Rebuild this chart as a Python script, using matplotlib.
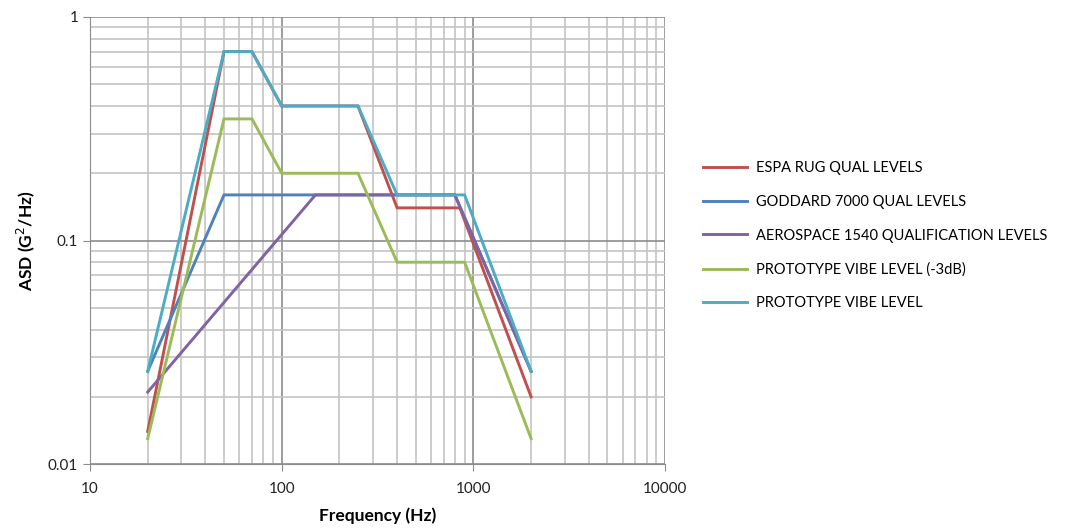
import matplotlib
matplotlib.use("Agg")
import matplotlib.pyplot as plt
from matplotlib.ticker import LogLocator, NullFormatter, FixedLocator, FixedFormatter

plt.rcParams['font.family'] = ['Lato', 'DejaVu Sans']

# frequency / ASD break points
espa_f = [20, 50, 70, 100, 250, 400, 850, 2000]
espa_asd = [0.014, 0.7, 0.7, 0.4, 0.4, 0.14, 0.14, 0.02]

goddard_f = [20, 50, 800, 2000]
goddard_asd = [0.026, 0.16, 0.16, 0.026]

aero_f = [20, 150, 800, 2000]
aero_asd = [0.021, 0.16, 0.16, 0.026]

proto3_f = [20, 50, 70, 100, 250, 400, 900, 2000]
proto3_asd = [0.013, 0.35, 0.35, 0.2, 0.2, 0.08, 0.08, 0.013]

proto_f = [20, 50, 70, 100, 250, 400, 900, 2000]
proto_asd = [0.026, 0.7, 0.7, 0.4, 0.4, 0.16, 0.16, 0.026]

labels = ["ESPA RUG QUAL LEVELS", "GODDARD 7000 QUAL LEVELS",
          "AEROSPACE 1540 QUALIFICATION LEVELS", "PROTOTYPE VIBE LEVEL (-3dB)",
          "PROTOTYPE VIBE LEVEL"]
colors = ["#C0504D", "#4F81BD", "#8064A2", "#9BBB59", "#4BACC6"]

fig = plt.figure(figsize=(10.65, 5.31), dpi=100)
ax = fig.add_axes([0.0845, 0.126, 0.540, 0.842])

series = [(espa_f, espa_asd), (goddard_f, goddard_asd), (aero_f, aero_asd),
          (proto3_f, proto3_asd), (proto_f, proto_asd)]
for (f, a), lab, c in zip(series, labels, colors):
    ax.plot(f, a, color=c, lw=2.1, label=lab, solid_joinstyle='miter')

ax.set_xscale('log')
ax.set_yscale('log')
ax.set_xlim(10, 10000)
ax.set_ylim(0.01, 1)

ax.xaxis.set_major_locator(FixedLocator([10, 100, 1000, 10000]))
ax.xaxis.set_major_formatter(FixedFormatter(["10", "100", "1000", "10000"]))
ax.yaxis.set_major_locator(FixedLocator([0.01, 0.1, 1]))
ax.yaxis.set_major_formatter(FixedFormatter(["0.01", "0.1", "1"]))
ax.xaxis.set_minor_locator(LogLocator(base=10, subs=range(2, 10)))
ax.yaxis.set_minor_locator(LogLocator(base=10, subs=range(2, 10)))
ax.xaxis.set_minor_formatter(NullFormatter())
ax.yaxis.set_minor_formatter(NullFormatter())

ax.grid(which='major', color='#8c8c8c', lw=1.2)
ax.grid(which='minor', color='#c4c4c4', lw=1.2)
ax.set_axisbelow(True)

for s in ['top', 'right']:
    ax.spines[s].set_visible(False)
for s in ['left', 'bottom']:
    ax.spines[s].set_color('#8c8c8c')
ax.tick_params(which='major', length=5, color='#8c8c8c', labelsize=11, labelcolor='#222222')
ax.tick_params(which='minor', length=0)
ax.tick_params(axis='x', pad=8)

ax.set_xlabel("Frequency (Hz)", fontsize=12.5, fontweight='bold', labelpad=8)
ax.set_ylabel("ASD (G$^2$/Hz)", fontsize=12.5, fontweight='bold', labelpad=8)

fig.legend(loc='center left', bbox_to_anchor=(0.648, 0.556), frameon=False,
           fontsize=10.5, handlelength=3.0, labelspacing=1.35, handletextpad=0.6)

fig.savefig("out.png", dpi=100)
